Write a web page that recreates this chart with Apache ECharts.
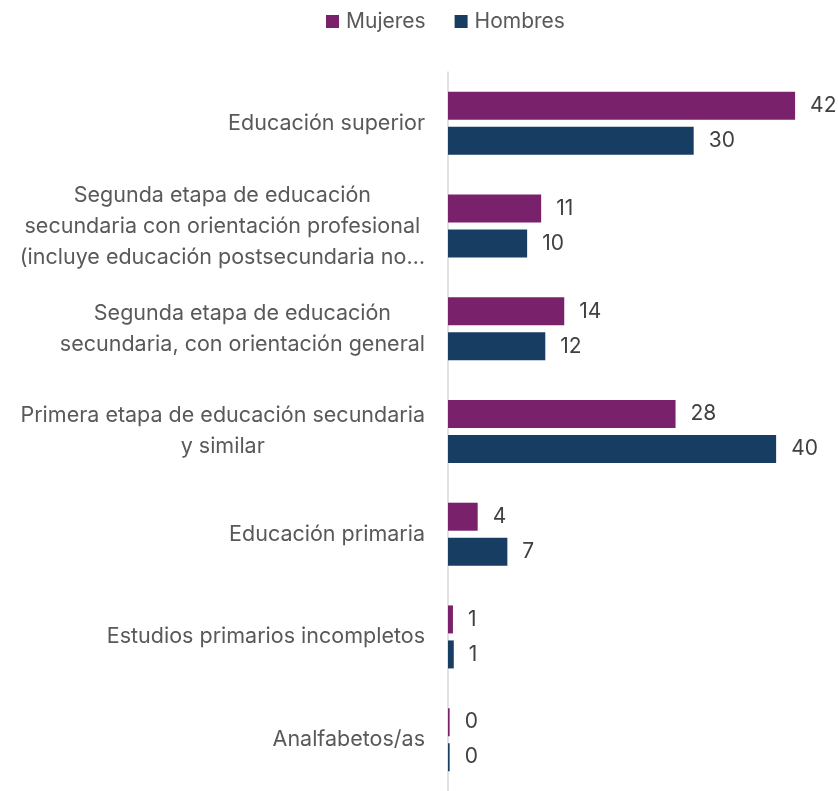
<!DOCTYPE html>
<html>
<head>
<meta charset="utf-8">
<script src="https://cdn.jsdelivr.net/npm/echarts@6/dist/echarts.min.js"></script>
<style>
  html, body { margin: 0; padding: 0; background: #fff; }
  #main { width: 838px; height: 791px; }
</style>
</head>
<body>
<div id="main"></div>
<script>
// categories, top to bottom
var categories = [
  'Educación superior',
  'Segunda etapa de educación\nsecundaria con orientación profesional\n(incluye educación postsecundaria no…',
  'Segunda etapa de educación\nsecundaria, con orientación general',
  'Primera etapa de educación secundaria\ny similar',
  'Educación primaria',
  'Estudios primarios incompletos',
  'Analfabetos/as'
];
// labels show them rounded
var mujeres = [42.1, 11.3, 14.1, 27.6, 3.6, 0.6, 0.2];
var hombres = [29.8, 9.6, 11.8, 39.8, 7.2, 0.7, 0.2];

var font = 'Inter';
var chart = echarts.init(document.getElementById('main'));

var valueLabel = {
  show: true,
  position: 'right',
  distance: 15,
  fontSize: 21,
  color: '#404040',
  fontFamily: font,
  formatter: function (p) { return Math.round(p.value); }
};

var option = {
  animation: false,
  textStyle: { fontFamily: font },
  legend: {
    top: 6,
    left: 321,
    icon: 'rect',
    itemWidth: 13,
    itemHeight: 13,
    itemGap: 29,
    textStyle: { fontSize: 21, color: '#595959', fontFamily: font, padding: [0, 0, 0, 2] },
    data: ['Mujeres', 'Hombres']
  },
  grid: {
    left: 448,
    right: 19,
    top: 72,
    bottom: 0,
    containLabel: false
  },
  xAxis: {
    type: 'value',
    min: 0,
    max: 45,
    show: false
  },
  yAxis: {
    type: 'category',
    inverse: true,
    data: categories,
    axisTick: { show: false },
    axisLine: { show: true, lineStyle: { color: '#d9d9d9', width: 1.5 } },
    axisLabel: {
      margin: 23,
      formatter: function (v) {
        return v.split('\n').map(function (l) { return '{c|' + l + '}'; }).join('\n');
      },
      rich: {
        c: { align: 'center', fontSize: 21.5, lineHeight: 31, color: '#595959', fontFamily: font }
      }
    }
  },
  series: [
    {
      name: 'Mujeres',
      type: 'bar',
      data: mujeres,
      barWidth: 28,
      barGap: '25%',
      itemStyle: { color: '#7a216c' },
      label: valueLabel
    },
    {
      name: 'Hombres',
      type: 'bar',
      data: hombres,
      barWidth: 28,
      barGap: '25%',
      itemStyle: { color: '#183d63' },
      label: valueLabel
    }
  ]
};

chart.setOption(option);
window.addEventListener('resize', function () { chart.resize(); });
</script>
</body>
</html>
